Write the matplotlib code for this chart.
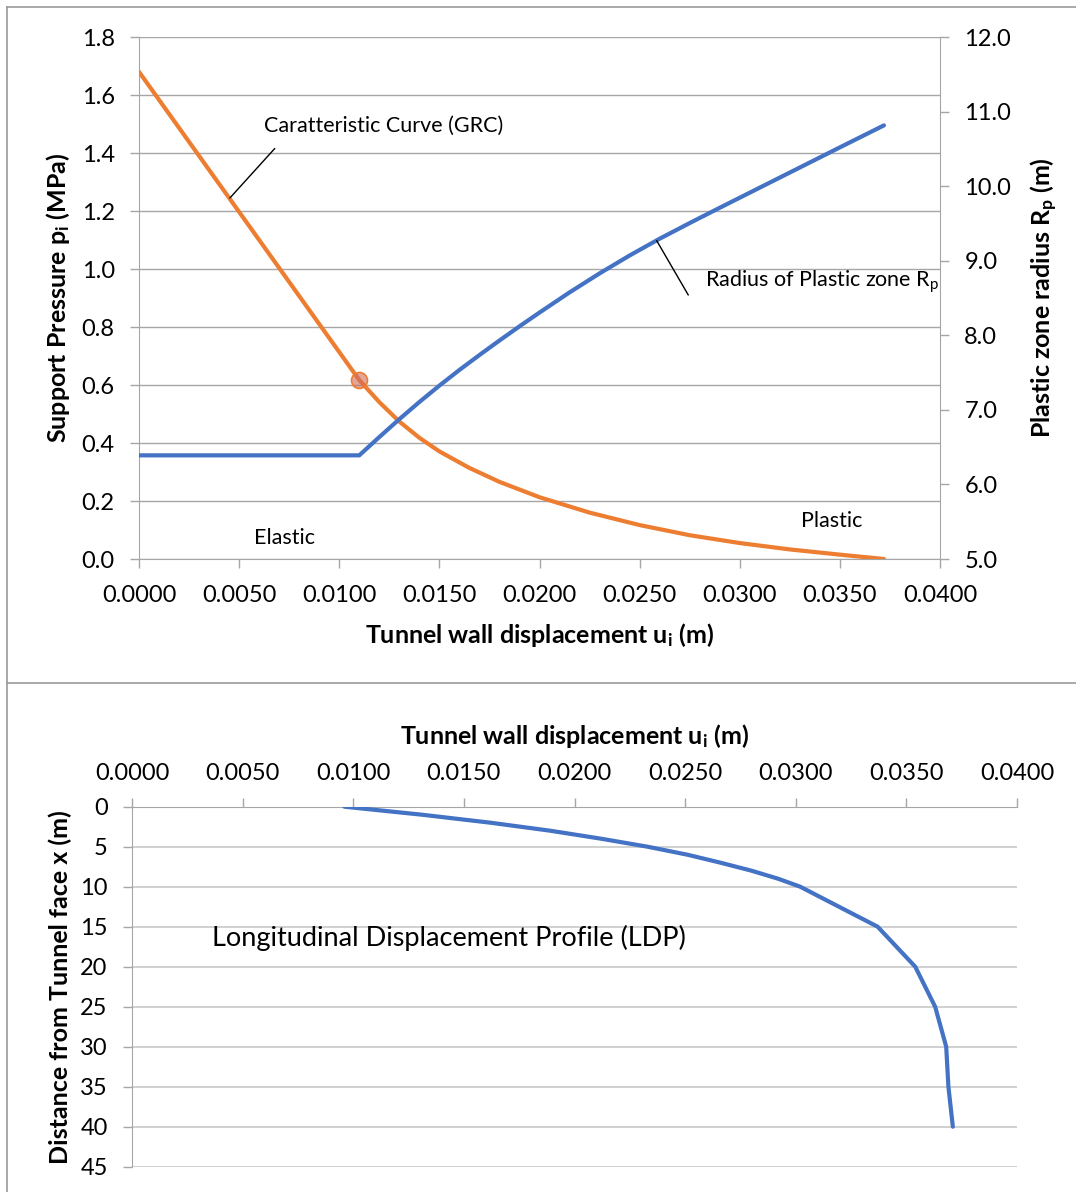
import matplotlib
matplotlib.use("Agg")
import matplotlib.pyplot as plt
from matplotlib.lines import Line2D
from matplotlib.ticker import FormatStrFormatter, MultipleLocator

plt.rcParams["font.family"] = ["Lato", "DejaVu Sans"]
plt.rcParams["mathtext.fontset"] = "custom"
plt.rcParams["mathtext.rm"] = "Lato"
plt.rcParams["mathtext.it"] = "Lato:italic"
plt.rcParams["mathtext.bf"] = "Lato:bold"

# ground reaction curve (GRC): wall displacement (m) vs support pressure (MPa)
grc_u = [0.0000, 0.0110, 0.0120, 0.0130, 0.0140, 0.0150, 0.0165, 0.0180,
         0.0200, 0.0225, 0.0250, 0.0275, 0.0300, 0.0325, 0.0350, 0.0372]
grc_p = [1.680, 0.617, 0.541, 0.474, 0.418, 0.371, 0.314, 0.266,
         0.213, 0.160, 0.117, 0.082, 0.055, 0.033, 0.015, 0.000]

# radius of plastic zone (m) vs wall displacement
rp_u = [0.0000, 0.0110, 0.0120, 0.0130, 0.0140, 0.0150, 0.0160, 0.0170,
        0.0180, 0.0190, 0.0200, 0.0215, 0.0230, 0.0245, 0.0260, 0.0275,
        0.0290, 0.0310, 0.0330, 0.0350, 0.0372]
rp_r = [6.39, 6.39, 6.635, 6.875, 7.105, 7.325, 7.535, 7.735,
        7.930, 8.120, 8.305, 8.575, 8.830, 9.070, 9.295, 9.505,
        9.710, 9.980, 10.250, 10.520, 10.815]

# elastic limit marker
elastic_u = [0.0110]
elastic_p = [0.617]

# longitudinal displacement profile: distance from face (m) vs displacement
ldp_x = [0, 1, 2, 3, 4, 5, 6, 7, 8, 9, 10, 15, 20, 25, 30, 35, 40]
ldp_u = [0.0096, 0.0131, 0.0162, 0.0189, 0.0212, 0.0233, 0.0251, 0.0266,
         0.0280, 0.0292, 0.0302, 0.0337, 0.0354, 0.0363, 0.0368, 0.0369, 0.0371]

ORANGE = "#ED7D31"
BLUE = "#4472C4"
GRID = "#a6a6a6"
FRAME = "#9a9a9a"
TXT = "#000000"

W, H = 1076, 1192


def fig_box(left, top, right, bottom):
    return [left / W, 1 - bottom / H, (right - left) / W, (bottom - top) / H]


fig = plt.figure(figsize=(W / 100, H / 100), dpi=100)

# panel frames (the two chart boxes)
for xs, ys in [((7, W), (7, 7)), ((7, 7), (7, H)), ((7, W), (683, 683))]:
    fig.add_artist(Line2D([x / W for x in xs], [1 - y / H for y in ys],
                          transform=fig.transFigure, color=FRAME, lw=1.2))

tick_kw = dict(direction="out", length=6.5, width=1, color=GRID,
               labelsize=17, labelcolor=TXT)
LABEL_FS = 18
NOTE_FS = 15.5

# ---------------- top chart ----------------
ax = fig.add_axes(fig_box(139, 37, 940, 559))
ax2 = ax.twinx()

ax.plot(grc_u, grc_p, color=ORANGE, lw=3.0, solid_capstyle="round", zorder=3)
ax.plot(elastic_u, elastic_p, "o", ms=11.5, mfc=(0.82, 0.42, 0.36, 0.6),
        mec=ORANGE, mew=1.2, zorder=4)
ax2.plot(rp_u, rp_r, color=BLUE, lw=3.0, solid_capstyle="round", zorder=3)

ax.set_xlim(0, 0.04)
ax.set_ylim(0, 1.8)
ax2.set_ylim(5, 12)
ax.xaxis.set_major_locator(MultipleLocator(0.005))
ax.xaxis.set_major_formatter(FormatStrFormatter("%.4f"))
ax.yaxis.set_major_locator(MultipleLocator(0.2))
ax.yaxis.set_major_formatter(FormatStrFormatter("%.1f"))
ax2.yaxis.set_major_locator(MultipleLocator(1.0))
ax2.yaxis.set_major_formatter(FormatStrFormatter("%.1f"))

ax.grid(axis="y", color=GRID, lw=1)
ax.set_axisbelow(True)
ax.tick_params(axis="x", pad=12, **tick_kw)
ax.tick_params(axis="y", pad=11, **tick_kw)
ax2.tick_params(axis="y", pad=11, **tick_kw)
for a in (ax, ax2):
    a.spines["top"].set_visible(False)
    for s in ("left", "bottom", "right"):
        a.spines[s].set_color(GRID)
ax2.spines["left"].set_visible(False)
ax2.spines["bottom"].set_visible(False)
ax.spines["right"].set_visible(False)

ax.set_xlabel(r"Tunnel wall displacement $\mathbf{u_i}$ (m)", fontsize=LABEL_FS,
              fontweight="bold", labelpad=11)
ax.set_ylabel(r"Support Pressure $\mathbf{p_i}$ (MPa)", fontsize=LABEL_FS,
              fontweight="bold", labelpad=7)
ax2.set_ylabel(r"Plastic zone radius $\mathbf{R_p}$ (m)", fontsize=LABEL_FS,
               fontweight="bold", labelpad=13)

ax.text(0.00624, 1.493, "Caratteristic Curve (GRC)", fontsize=NOTE_FS,
        ha="left", va="center")
ax.annotate("", xy=(0.00454, 1.245), xytext=(0.00678, 1.4155),
            arrowprops=dict(arrowstyle="-", color="black", lw=1,
                            shrinkA=0, shrinkB=0))
ax2.text(0.02826, 8.719, r"Radius of Plastic zone R$_\mathrm{p}$", fontsize=NOTE_FS,
         ha="left", va="center")
ax2.annotate("", xy=(0.02585, 9.27), xytext=(0.02743, 8.54),
             arrowprops=dict(arrowstyle="-", color="black", lw=1,
                             shrinkA=0, shrinkB=0))
ax.text(0.00729, 0.0724, "Elastic", fontsize=NOTE_FS, ha="center", va="center")
ax.text(0.03461, 0.131, "Plastic", fontsize=NOTE_FS, ha="center", va="center")

# ---------------- bottom chart ----------------
ax3 = fig.add_axes(fig_box(132, 806.7, 1017, 1166.7))
ax3.plot(ldp_u, ldp_x, color=BLUE, lw=3.0, solid_capstyle="round", zorder=3)
ax3.set_xlim(0, 0.04)
ax3.set_ylim(45, 0)
ax3.xaxis.tick_top()
ax3.xaxis.set_label_position("top")
ax3.xaxis.set_major_locator(MultipleLocator(0.005))
ax3.xaxis.set_major_formatter(FormatStrFormatter("%.4f"))
ax3.yaxis.set_major_locator(MultipleLocator(5))
ax3.grid(axis="y", color="#c8c8c8", lw=1.2)
ax3.set_axisbelow(True)
ax3.tick_params(axis="x", pad=9.5, **tick_kw)
ax3.tick_params(axis="y", pad=11, **tick_kw)
ax3.spines["right"].set_visible(False)
ax3.spines["bottom"].set_visible(False)
ax3.spines["top"].set_color(GRID)
ax3.spines["left"].set_color(GRID)
ax3.set_xlabel(r"Tunnel wall displacement $\mathbf{u_i}$ (m)", fontsize=LABEL_FS,
               fontweight="bold", labelpad=14)
ax3.set_ylabel("Distance from Tunnel face x (m)", fontsize=LABEL_FS,
               fontweight="bold", labelpad=6)
ax3.text(0.003616, 16.37, "Longitudinal Displacement Profile (LDP)",
         fontsize=19.5, ha="left", va="center")

fig.savefig("out.png", dpi=100)
